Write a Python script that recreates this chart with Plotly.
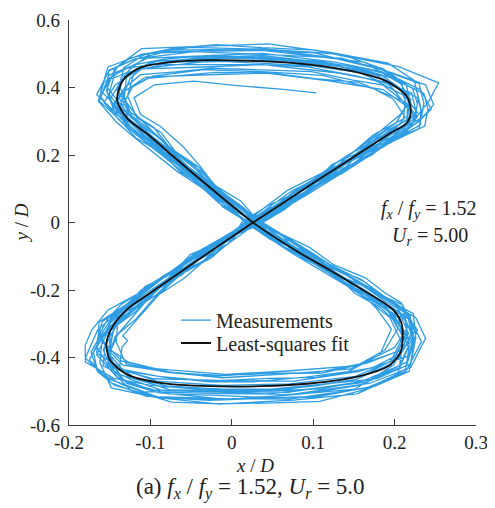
import plotly.graph_objects as go

# ---- Least-squares fit ----
fit_x = [0.026, 0.063, 0.100, 0.130, 0.157, 0.195, 0.215, 0.220, 0.215, 0.190, 0.149, 0.096, 0.035, -0.027,
         -0.076, -0.113, -0.133, -0.141, -0.129, -0.100, -0.074, -0.025, 0.026, 0.080, 0.121, 0.161, 0.198,
         0.208, 0.210, 0.207, 0.192, 0.157, 0.096, 0.035, -0.027, -0.088, -0.129, -0.150, -0.154, -0.146,
         -0.129, -0.095, -0.035, 0.026]
fit_y = [0.000, 0.058, 0.117, 0.163, 0.206, 0.265, 0.295, 0.330, 0.374, 0.419, 0.448, 0.468, 0.478, 0.481,
         0.475, 0.458, 0.424, 0.364, 0.310, 0.255, 0.200, 0.100, 0.000, -0.085, -0.142, -0.200, -0.258,
         -0.295, -0.337, -0.386, -0.426, -0.455, -0.477, -0.485, -0.485, -0.475, -0.450, -0.406, -0.357,
         -0.307, -0.258, -0.200, -0.100, 0.000]

# ---- Measurements (estimated trace, segment by segment) ----
start_x = [0.104, 0.060, 0.010, -0.047, -0.095, -0.120, -0.112, -0.088, -0.060, -0.039, -0.012]
start_y = [0.384, 0.395, 0.405, 0.419, 0.408, 0.370, 0.320, 0.285, 0.225, 0.167, 0.080]

p0_x = [0.026, 0.087, 0.150, 0.205, 0.217, 0.205, 0.152, 0.071, -0.012, -0.093, -0.138, -0.135, -0.128,
        -0.134, -0.112, -0.090, -0.040]
p0_y = [0.002, -0.088, -0.181, -0.264, -0.328, -0.402, -0.456, -0.478, -0.483, -0.470, -0.432, -0.370,
        -0.350, -0.336, -0.275, -0.215, -0.100]

c1_x = [0.038, 0.087, 0.137, 0.186, 0.224, 0.228, 0.222, 0.185, 0.127, 0.038, -0.045, -0.104, -0.144, -0.151,
        -0.130, -0.088, -0.024, 0.032, 0.096, 0.153, 0.211, 0.222, 0.206, 0.158, 0.069, -0.009, -0.099, -0.141,
        -0.166, -0.152, -0.115, -0.040]
c1_y = [0.010, 0.095, 0.168, 0.254, 0.299, 0.352, 0.398, 0.446, 0.475, 0.501, 0.494, 0.487, 0.438, 0.381,
        0.315, 0.224, 0.114, 0.003, -0.087, -0.196, -0.273, -0.340, -0.424, -0.472, -0.503, -0.501, -0.496,
        -0.458, -0.392, -0.322, -0.226, -0.103]

c2_x = [0.014, 0.073, 0.122, 0.175, 0.200, 0.213, 0.198, 0.175, 0.112, 0.042, -0.034, -0.097, -0.122, -0.136,
        -0.114, -0.078, -0.030, 0.020, 0.073, 0.147, 0.188, 0.204, 0.188, 0.146, 0.065, -0.011, -0.081, -0.130,
        -0.142, -0.140, -0.095, -0.050]
c2_y = [-0.006, 0.074, 0.157, 0.222, 0.276, 0.312, 0.366, 0.396, 0.436, 0.446, 0.453, 0.434, 0.402, 0.339,
        0.290, 0.196, 0.103, -0.002, -0.085, -0.178, -0.246, -0.314, -0.378, -0.434, -0.449, -0.460, -0.443,
        -0.419, -0.354, -0.292, -0.204, -0.100]

c3_x = [0.035, 0.091, 0.137, 0.198, 0.228, 0.242, 0.254, 0.205, 0.126, 0.044, -0.050, -0.110, -0.152, -0.161,
        -0.137, -0.094, -0.030, 0.029, 0.097, 0.159, 0.220, 0.233, 0.214, 0.165, 0.071, -0.011, -0.105, -0.148,
        -0.175, -0.160, -0.121, -0.046]
c3_y = [-0.005, 0.083, 0.180, 0.256, 0.317, 0.359, 0.414, 0.462, 0.500, 0.513, 0.519, 0.499, 0.461, 0.390,
        0.333, 0.226, 0.116, -0.007, -0.106, -0.197, -0.289, -0.353, -0.441, -0.491, -0.523, -0.522, -0.515,
        -0.475, -0.407, -0.335, -0.235, -0.117]

c4_x = [0.022, 0.074, 0.132, 0.178, 0.215, 0.218, 0.213, 0.178, 0.123, 0.037, -0.042, -0.097, -0.136, -0.139,
        -0.127, -0.078, -0.036, 0.024, 0.079, 0.152, 0.197, 0.213, 0.198, 0.153, 0.067, -0.013, -0.087, -0.138,
        -0.151, -0.149, -0.102, -0.051]
c4_y = [0.004, 0.094, 0.164, 0.247, 0.293, 0.344, 0.390, 0.436, 0.467, 0.491, 0.485, 0.477, 0.430, 0.374,
        0.308, 0.219, 0.115, 0.005, -0.089, -0.187, -0.273, -0.334, -0.416, -0.465, -0.494, -0.493, -0.486,
        -0.450, -0.390, -0.311, -0.227, -0.095]

c5_x = [0.033, 0.093, 0.141, 0.189, 0.230, 0.233, 0.228, 0.189, 0.131, 0.038, -0.042, -0.113, -0.143, -0.157,
        -0.134, -0.091, -0.024, 0.037, 0.094, 0.163, 0.211, 0.228, 0.217, 0.157, 0.077, -0.016, -0.096, -0.151,
        -0.165, -0.163, -0.112, -0.047]
c5_y = [-0.002, 0.083, 0.155, 0.236, 0.278, 0.329, 0.370, 0.416, 0.443, 0.468, 0.460, 0.455, 0.408, 0.356,
        0.293, 0.209, 0.102, 0.000, -0.092, -0.176, -0.261, -0.317, -0.396, -0.441, -0.470, -0.468, -0.463,
        -0.427, -0.372, -0.295, -0.216, -0.096]

c6_x = [0.019, 0.069, 0.131, 0.174, 0.211, 0.213, 0.209, 0.174, 0.121, 0.037, -0.036, -0.100, -0.127, -0.141,
        -0.119, -0.081, -0.033, 0.014, 0.074, 0.151, 0.194, 0.209, 0.194, 0.151, 0.066, -0.006, -0.091, -0.129,
        -0.153, -0.140, -0.105, -0.048]
c6_y = [0.005, 0.096, 0.171, 0.260, 0.307, 0.362, 0.409, 0.459, 0.489, 0.515, 0.508, 0.501, 0.450, 0.392,
        0.323, 0.230, 0.117, 0.005, -0.091, -0.201, -0.281, -0.356, -0.430, -0.494, -0.512, -0.524, -0.504,
        -0.477, -0.404, -0.331, -0.232, -0.102]

c7_x = [0.036, 0.094, 0.141, 0.203, 0.233, 0.248, 0.238, 0.197, 0.135, 0.039, -0.046, -0.119, -0.151, -0.166,
        -0.142, -0.097, -0.030, 0.032, 0.100, 0.163, 0.226, 0.238, 0.220, 0.169, 0.073, -0.012, -0.108, -0.153,
        -0.180, -0.165, -0.125, -0.047]
c7_y = [0.007, 0.092, 0.175, 0.249, 0.308, 0.349, 0.408, 0.443, 0.487, 0.498, 0.506, 0.485, 0.449, 0.379,
        0.324, 0.220, 0.125, 0.009, -0.092, -0.191, -0.282, -0.343, -0.429, -0.477, -0.509, -0.507, -0.501,
        -0.462, -0.402, -0.319, -0.234, -0.096]

c8_x = [0.021, 0.081, 0.129, 0.186, 0.213, 0.227, 0.211, 0.186, 0.119, 0.043, -0.038, -0.106, -0.133, -0.147,
        -0.125, -0.085, -0.030, 0.025, 0.081, 0.155, 0.200, 0.217, 0.200, 0.155, 0.068, -0.008, -0.095, -0.135,
        -0.161, -0.146, -0.111, -0.045]
c8_y = [-0.006, 0.075, 0.147, 0.224, 0.264, 0.311, 0.351, 0.394, 0.420, 0.443, 0.437, 0.431, 0.387, 0.338,
        0.278, 0.198, 0.092, -0.012, -0.086, -0.173, -0.241, -0.307, -0.370, -0.424, -0.440, -0.450, -0.433,
        -0.411, -0.347, -0.285, -0.199, -0.101]

c9_x = [0.029, 0.080, 0.139, 0.186, 0.226, 0.229, 0.224, 0.192, 0.123, 0.045, -0.041, -0.111, -0.140, -0.154,
        -0.131, -0.089, -0.030, 0.029, 0.092, 0.154, 0.213, 0.218, 0.213, 0.154, 0.076, -0.015, -0.094, -0.148,
        -0.162, -0.159, -0.110, -0.052]
c9_y = [0.004, 0.097, 0.176, 0.267, 0.316, 0.373, 0.421, 0.472, 0.503, 0.529, 0.522, 0.515, 0.463, 0.403,
        0.333, 0.236, 0.118, 0.005, -0.096, -0.207, -0.289, -0.366, -0.443, -0.508, -0.526, -0.538, -0.518,
        -0.490, -0.415, -0.341, -0.239, -0.107]

c10_x = [0.021, 0.046, 0.084, 0.106, 0.137, 0.156, 0.187, 0.222, 0.226, 0.221, 0.183, 0.157, 0.099, 0.044,
         -0.023, -0.070, -0.118, -0.137, -0.150, -0.127, -0.108, -0.078, -0.057, -0.025, -0.008,
         0.022, 0.046, 0.086, 0.116, 0.155, 0.179, 0.205, 0.210, 0.206, 0.158, 0.102, 0.036, -0.018, -0.078,
         -0.130, -0.148, -0.158, -0.147, -0.131, -0.093, -0.068, -0.034, -0.011]
c10_y = [-0.007, 0.042, 0.079, 0.125, 0.157, 0.203, 0.236, 0.291, 0.331, 0.384, 0.417, 0.444, 0.464, 0.470,
         0.479, 0.467, 0.454, 0.416, 0.363, 0.300, 0.256, 0.198, 0.152, 0.096, 0.049,
         -0.008, -0.048, -0.100, -0.145, -0.200, -0.239, -0.283, -0.346, -0.430, -0.482, -0.503, -0.518, -0.512,
         -0.508, -0.473, -0.433, -0.377, -0.327, -0.266, -0.215, -0.157, -0.112, -0.054]

c11_x = [0.033, 0.061, 0.077, 0.104, 0.123, 0.154, 0.173, 0.202, 0.214, 0.199, 0.177, 0.143, 0.101, 0.036,
         -0.017, -0.070, -0.102, -0.129, -0.132, -0.123, -0.092, -0.072, -0.043, -0.022, 0.009,
         0.032, 0.067, 0.090, 0.127, 0.155, 0.190, 0.209, 0.225, 0.208, 0.172, 0.104, 0.045, -0.025, -0.090,
         -0.133, -0.166, -0.165, -0.159, -0.132, -0.106, -0.069, -0.040, 0.000]
c11_y = [0.003, 0.040, 0.092, 0.126, 0.172, 0.205, 0.249, 0.295, 0.346, 0.394, 0.442, 0.457, 0.477, 0.495,
         0.490, 0.490, 0.471, 0.441, 0.372, 0.316, 0.259, 0.212, 0.155, 0.105, 0.050,
         0.004, -0.046, -0.082, -0.133, -0.174, -0.222, -0.252, -0.321, -0.388, -0.431, -0.459, -0.462, -0.470,
         -0.456, -0.436, -0.387, -0.344, -0.293, -0.249, -0.189, -0.146, -0.091, -0.050]

c12_x = [0.021, 0.056, 0.081, 0.114, 0.135, 0.170, 0.192, 0.233, 0.236, 0.230, 0.190, 0.163, 0.110, 0.038,
         -0.020, -0.081, -0.121, -0.151, -0.153, -0.141, -0.107, -0.087, -0.055, -0.031, -0.002,
         0.020, 0.055, 0.080, 0.117, 0.144, 0.178, 0.195, 0.210, 0.196, 0.154, 0.101, 0.036, -0.016, -0.080,
         -0.118, -0.149, -0.149, -0.145, -0.118, -0.096, -0.061, -0.039, -0.004]
c12_y = [0.010, 0.048, 0.096, 0.129, 0.176, 0.210, 0.255, 0.310, 0.353, 0.412, 0.448, 0.475, 0.490, 0.510,
         0.508, 0.506, 0.482, 0.451, 0.384, 0.327, 0.267, 0.216, 0.157, 0.112, 0.057,
         0.011, -0.044, -0.087, -0.144, -0.185, -0.234, -0.267, -0.339, -0.409, -0.464, -0.485, -0.499, -0.494,
         -0.484, -0.462, -0.410, -0.366, -0.312, -0.264, -0.201, -0.155, -0.095, -0.046]

c13_x = [0.032, 0.053, 0.086, 0.104, 0.135, 0.153, 0.184, 0.210, 0.223, 0.209, 0.186, 0.149, 0.098, 0.043,
         -0.024, -0.069, -0.112, -0.131, -0.146, -0.125, -0.105, -0.073, -0.053, -0.022, 0.001,
         0.033, 0.058, 0.096, 0.126, 0.166, 0.190, 0.219, 0.224, 0.218, 0.176, 0.105, 0.045, -0.028, -0.089,
         -0.144, -0.165, -0.173, -0.161, -0.144, -0.104, -0.076, -0.035, -0.007]
c13_y = [-0.008, 0.039, 0.075, 0.120, 0.152, 0.196, 0.227, 0.273, 0.320, 0.362, 0.407, 0.422, 0.447, 0.451,
         0.457, 0.446, 0.438, 0.401, 0.348, 0.286, 0.245, 0.192, 0.148, 0.090, 0.046,
         -0.009, -0.049, -0.101, -0.146, -0.204, -0.245, -0.289, -0.354, -0.441, -0.485, -0.515, -0.520, -0.527,
         -0.518, -0.483, -0.442, -0.384, -0.333, -0.271, -0.219, -0.160, -0.114, -0.057]

c14_x = [0.019, 0.047, 0.087, 0.112, 0.145, 0.166, 0.199, 0.237, 0.241, 0.236, 0.195, 0.167, 0.105, 0.045,
         -0.027, -0.078, -0.129, -0.150, -0.163, -0.139, -0.118, -0.086, -0.063, -0.030, -0.011,
         0.020, 0.046, 0.086, 0.119, 0.159, 0.183, 0.210, 0.215, 0.211, 0.162, 0.104, 0.037, -0.020, -0.081,
         -0.134, -0.153, -0.163, -0.152, -0.135, -0.097, -0.071, -0.036, -0.013]
c14_y = [-0.001, 0.037, 0.087, 0.122, 0.167, 0.199, 0.242, 0.286, 0.336, 0.382, 0.429, 0.444, 0.463, 0.481,
         0.476, 0.476, 0.457, 0.428, 0.361, 0.307, 0.251, 0.206, 0.150, 0.100, 0.046,
         0.000, -0.047, -0.082, -0.129, -0.168, -0.215, -0.244, -0.311, -0.376, -0.417, -0.445, -0.447, -0.455,
         -0.442, -0.423, -0.375, -0.333, -0.284, -0.241, -0.183, -0.142, -0.090, -0.051]

c15_x = [0.027, 0.058, 0.075, 0.106, 0.126, 0.158, 0.177, 0.207, 0.220, 0.204, 0.181, 0.147, 0.103, 0.037,
         -0.019, -0.073, -0.106, -0.133, -0.137, -0.127, -0.096, -0.075, -0.045, -0.027, 0.004,
         0.026, 0.062, 0.084, 0.123, 0.148, 0.182, 0.200, 0.216, 0.199, 0.166, 0.100, 0.044, -0.023, -0.085,
         -0.125, -0.158, -0.156, -0.150, -0.124, -0.100, -0.065, -0.040, -0.003]
c15_y = [0.005, 0.054, 0.090, 0.137, 0.174, 0.223, 0.260, 0.320, 0.364, 0.423, 0.459, 0.488, 0.511, 0.518,
         0.527, 0.515, 0.500, 0.458, 0.400, 0.330, 0.282, 0.218, 0.168, 0.108, 0.062,
         0.004, -0.039, -0.097, -0.143, -0.196, -0.234, -0.278, -0.339, -0.422, -0.473, -0.493, -0.508, -0.502,
         -0.498, -0.464, -0.425, -0.370, -0.321, -0.261, -0.211, -0.154, -0.108, -0.045]

c16_x = [0.039, 0.065, 0.090, 0.121, 0.142, 0.166, 0.197, 0.232, 0.232, 0.227, 0.198, 0.162, 0.114, 0.047,
         -0.007, -0.064, -0.106, -0.125, -0.135, -0.124, -0.092, -0.069, -0.039, -0.019, 0.013,
         0.034, 0.067, 0.101, 0.129, 0.168, 0.195, 0.223, 0.226, 0.220, 0.179, 0.110, 0.054, -0.013, -0.077,
         -0.119, -0.152, -0.151, -0.144, -0.126, -0.087, -0.062, -0.025, 0.002]
c16_y = [0.002, 0.039, 0.087, 0.128, 0.161, 0.206, 0.241, 0.290, 0.342, 0.391, 0.427, 0.453, 0.467, 0.484,
         0.487, 0.476, 0.467, 0.427, 0.366, 0.311, 0.255, 0.209, 0.153, 0.103, 0.047,
         0.001, -0.043, -0.095, -0.140, -0.195, -0.234, -0.270, -0.342, -0.418, -0.462, -0.493, -0.498, -0.500,
         -0.495, -0.461, -0.419, -0.370, -0.312, -0.266, -0.205, -0.153, -0.104, -0.049]

c17_x = [0.013, 0.044, 0.076, 0.097, 0.128, 0.157, 0.179, 0.211, 0.228, 0.212, 0.178, 0.151, 0.093, 0.034,
         -0.037, -0.086, -0.128, -0.157, -0.164, -0.142, -0.121, -0.091, -0.068, -0.035, -0.016,
         0.018, 0.043, 0.070, 0.108, 0.133, 0.163, 0.179, 0.196, 0.182, 0.143, 0.091, 0.026, -0.027, -0.084,
         -0.133, -0.150, -0.159, -0.150, -0.126, -0.104, -0.069, -0.046, -0.013]
c17_y = [0.003, 0.049, 0.086, 0.122, 0.167, 0.199, 0.239, 0.289, 0.326, 0.376, 0.419, 0.435, 0.461, 0.468,
         0.469, 0.468, 0.445, 0.417, 0.360, 0.298, 0.255, 0.198, 0.153, 0.100, 0.058,
         0.004, -0.042, -0.081, -0.132, -0.172, -0.219, -0.258, -0.316, -0.391, -0.442, -0.458, -0.472, -0.472,
         -0.458, -0.439, -0.392, -0.343, -0.300, -0.242, -0.192, -0.144, -0.092, -0.047]

c18_x = [0.028, 0.053, 0.087, 0.117, 0.137, 0.171, 0.196, 0.229, 0.245, 0.232, 0.195, 0.167, 0.104, 0.043,
         -0.023, -0.084, -0.121, -0.151, -0.161, -0.139, -0.117, -0.082, -0.059, -0.028, -0.007,
         0.027, 0.060, 0.088, 0.127, 0.156, 0.191, 0.217, 0.223, 0.213, 0.175, 0.103, 0.043, -0.023, -0.092,
         -0.134, -0.165, -0.170, -0.156, -0.140, -0.104, -0.070, -0.041, -0.004]
c18_y = [-0.005, 0.037, 0.078, 0.125, 0.161, 0.199, 0.244, 0.298, 0.336, 0.393, 0.437, 0.454, 0.479, 0.486,
         0.495, 0.484, 0.466, 0.436, 0.372, 0.305, 0.259, 0.202, 0.153, 0.093, 0.048,
         -0.010, -0.055, -0.100, -0.158, -0.202, -0.251, -0.285, -0.361, -0.436, -0.485, -0.517, -0.519, -0.524,
         -0.516, -0.481, -0.441, -0.384, -0.332, -0.281, -0.216, -0.169, -0.111, -0.062]

c19_x = [0.030, 0.061, 0.083, 0.106, 0.137, 0.155, 0.182, 0.215, 0.216, 0.208, 0.183, 0.149, 0.108, 0.045,
         -0.015, -0.058, -0.104, -0.121, -0.128, -0.117, -0.087, -0.070, -0.041, -0.019, 0.011,
         0.031, 0.059, 0.095, 0.125, 0.164, 0.188, 0.208, 0.224, 0.212, 0.166, 0.111, 0.044, -0.016, -0.073,
         -0.127, -0.148, -0.151, -0.149, -0.121, -0.094, -0.064, -0.030, -0.003]
c19_y = [0.013, 0.053, 0.093, 0.138, 0.172, 0.209, 0.252, 0.304, 0.341, 0.396, 0.438, 0.454, 0.478, 0.485,
         0.494, 0.483, 0.466, 0.437, 0.375, 0.311, 0.267, 0.212, 0.165, 0.107, 0.064,
         0.008, -0.032, -0.073, -0.125, -0.164, -0.208, -0.238, -0.307, -0.374, -0.417, -0.446, -0.448, -0.453,
         -0.445, -0.414, -0.379, -0.327, -0.281, -0.235, -0.176, -0.135, -0.082, -0.039]

c20_x = [0.023, 0.049, 0.075, 0.107, 0.128, 0.152, 0.184, 0.219, 0.220, 0.214, 0.185, 0.148, 0.100, 0.032,
         -0.024, -0.082, -0.125, -0.144, -0.154, -0.143, -0.110, -0.087, -0.057, -0.036, -0.003,
         0.018, 0.053, 0.089, 0.119, 0.161, 0.189, 0.219, 0.223, 0.216, 0.172, 0.099, 0.039, -0.033, -0.101,
         -0.145, -0.180, -0.180, -0.172, -0.152, -0.112, -0.084, -0.045, -0.016]
c20_y = [-0.006, 0.044, 0.087, 0.127, 0.176, 0.212, 0.256, 0.312, 0.354, 0.410, 0.457, 0.475, 0.503, 0.511,
         0.512, 0.511, 0.487, 0.455, 0.391, 0.322, 0.274, 0.211, 0.161, 0.102, 0.054,
         -0.005, -0.052, -0.093, -0.145, -0.187, -0.235, -0.275, -0.335, -0.412, -0.465, -0.482, -0.496, -0.496,
         -0.482, -0.462, -0.413, -0.363, -0.318, -0.259, -0.207, -0.158, -0.104, -0.058]

c21_x = [0.027, 0.056, 0.086, 0.105, 0.135, 0.162, 0.182, 0.212, 0.228, 0.213, 0.181, 0.156, 0.102, 0.047,
         -0.020, -0.065, -0.104, -0.132, -0.138, -0.117, -0.098, -0.070, -0.049, -0.017, 0.000,
         0.032, 0.058, 0.086, 0.126, 0.152, 0.183, 0.200, 0.217, 0.203, 0.162, 0.108, 0.041, -0.015, -0.074,
         -0.125, -0.143, -0.152, -0.143, -0.118, -0.095, -0.059, -0.034, 0.000]
c21_y = [-0.001, 0.033, 0.077, 0.115, 0.145, 0.187, 0.219, 0.264, 0.313, 0.357, 0.390, 0.415, 0.426, 0.443,
         0.445, 0.435, 0.427, 0.390, 0.334, 0.284, 0.231, 0.190, 0.137, 0.092, 0.040,
         -0.002, -0.050, -0.104, -0.153, -0.211, -0.253, -0.292, -0.368, -0.450, -0.496, -0.530, -0.535, -0.537,
         -0.532, -0.495, -0.451, -0.398, -0.337, -0.287, -0.222, -0.166, -0.114, -0.055]

end_x = [0.026, 0.084, 0.136]
end_y = [0.001, 0.090, 0.170]

x_ticks = [-0.2, -0.1, 0, 0.1, 0.2, 0.3]
x_tick_labels = ["-0.2", "-0.1", "0", "0.1", "0.2", "0.3"]
y_ticks = [-0.6, -0.4, -0.2, 0, 0.2, 0.4, 0.6]
y_tick_labels = ["-0.6", "-0.4", "-0.2", "0", "0.2", "0.4", "0.6"]

meas_x = (start_x + p0_x + c1_x + c10_x + c16_x + c2_x + c11_x + c17_x + c3_x + c12_x + c18_x + c4_x
          + c13_x + c19_x + c5_x + c14_x + c20_x + c6_x + c15_x + c21_x + c7_x + c8_x + c9_x + end_x)
meas_y = (start_y + p0_y + c1_y + c10_y + c16_y + c2_y + c11_y + c17_y + c3_y + c12_y + c18_y + c4_y
          + c13_y + c19_y + c5_y + c14_y + c20_y + c6_y + c15_y + c21_y + c7_y + c8_y + c9_y + end_y)

FONT = "Liberation Serif"
TXT = "#222222"

fig = go.Figure()
fig.add_trace(go.Scatter(x=meas_x, y=meas_y, mode="lines", name="Measurements", legend="legend",
                         line=dict(color="#2F9DE4", width=1.3)))
fig.add_trace(go.Scatter(x=fit_x, y=fit_y, mode="lines", name="Least-squares fit", legend="legend2",
                         line=dict(color="#111111", width=1.8, shape="spline", smoothing=0.8)))

axis_common = dict(showgrid=False, zeroline=False, showline=True, linecolor="#3a3a3a", linewidth=1.3,
                   ticks="inside", ticklen=6, tickwidth=1.3, tickcolor="#3a3a3a", automargin=False,
                   tickfont=dict(family=FONT, size=19, color=TXT), mirror=False)

legend_common = dict(xanchor="left", yanchor="middle", bgcolor="rgba(0,0,0,0)",
                     font=dict(family=FONT, size=20, color=TXT))

# the page body has an 8px margin, so the figure is 8px smaller and margins shifted
fig.update_layout(
    width=487, height=500,
    margin=dict(l=61, r=19, t=12, b=83),
    paper_bgcolor="white", plot_bgcolor="white",
    xaxis=dict(range=[-0.2, 0.3], tickvals=x_ticks, ticktext=x_tick_labels, ticklabelstandoff=0, **axis_common),
    yaxis=dict(range=[-0.6, 0.6], tickvals=y_ticks, ticktext=y_tick_labels, ticklabelstandoff=4, **axis_common),
    showlegend=True,
    legend=dict(x=0.263, y=0.259, **legend_common),
    legend2=dict(x=0.263, y=0.2025, **legend_common),
    annotations=[
        dict(text="<i>x</i> / <i>D</i>", xref="paper", yref="paper", x=0.457, y=-0.101,
             xanchor="center", yanchor="middle",
             showarrow=False, font=dict(family=FONT, size=19, color=TXT)),
        dict(text="<i>y</i> / <i>D</i>", xref="paper", yref="paper", x=-0.1155, y=0.5, textangle=-90,
             xanchor="center", yanchor="middle",
             showarrow=False, font=dict(family=FONT, size=19, color=TXT)),
        dict(text="<i>f<sub>x</sub></i> / <i>f<sub>y</sub></i> = 1.52", xref="x", yref="y", x=0.242, y=0.040,
             xanchor="center", yanchor="middle",
             showarrow=False, font=dict(family=FONT, size=20, color=TXT)),
        dict(text="<i>U<sub>r</sub></i> = 5.00", xref="x", yref="y", x=0.244, y=-0.040,
             xanchor="center", yanchor="middle",
             showarrow=False, font=dict(family=FONT, size=20, color=TXT)),
        dict(text="(a) <i>f<sub>x</sub></i> / <i>f<sub>y</sub></i> = 1.52, <i>U<sub>r</sub></i> = 5.0",
             xref="paper", yref="paper", x=0.446, y=-0.158, xanchor="center", yanchor="middle",
             showarrow=False, font=dict(family=FONT, size=23, color=TXT)),
    ],
)

fig.write_html("out.html")
